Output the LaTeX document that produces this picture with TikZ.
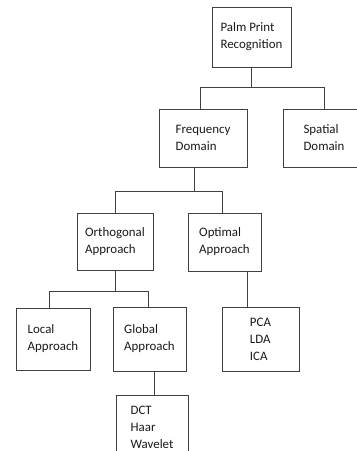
\documentclass[tikz,border=0pt]{standalone}
\usepackage{fontspec}
\setmainfont{Carlito}
\begin{document}
\begin{tikzpicture}[
    x=1pt,y=-1pt,
    box/.style = { draw=black!75,line width=0.9pt,align=left,inner sep=0pt,
                   font=\fontsize{12.9}{17}\selectfont,text=black!90 },
    linkstyle/.style = { draw=black!75,line width=0.9pt }
    ]
    \useasboundingbox (0,0) rectangle (357,451);
    \clip (0,0) rectangle (357,451);
    % Definitions
    \coordinate (pal) at (251.5, 37);
    \coordinate (frq) at (203  ,138);
    \coordinate (spa) at (324  ,138);
    \coordinate (ort) at (115  ,241.5);
    \coordinate (opm) at (224.5,242);
    \coordinate (loc) at ( 53  ,339);
    \coordinate (glo) at (149.5,339);
    \coordinate (pld) at (260.5,339);
    \coordinate (dct) at (152  ,427);
    % Nodes
    \node(P) at (pal) [box,minimum width=79pt,minimum height=60pt] {Palm Print\\Recognition};
    \node(F) at (frq) [box,minimum width=88pt,minimum height=58pt] {Frequency\\Domain};
    \node(S) at (spa) [box,minimum width=82pt,minimum height=58pt] {Spatial\\Domain};
    \node(O) at (ort) [box,minimum width=76pt,minimum height=57pt] {Orthogonal\\Approach};
    \node(T) at (opm) [box,minimum width=73pt,minimum height=58pt] {Optimal\\Approach};
    \node(L) at (loc) [box,minimum width=74pt,minimum height=62pt] {Local\\Approach};
    \node(G) at (glo) [box,minimum width=73pt,minimum height=64pt] {Global\\Approach};
    \node(A) at (pld) [box,minimum width=77pt,minimum height=64pt] {PCA\\LDA\\ICA};
    \node(D) at (dct) [box,minimum width=72pt,minimum height=64pt] {DCT\\Haar\\Wavelet};
    % Connectors
    \draw[linkstyle] (P.south)              -- ++(0,20) -| ([xshift=-3pt]F.north);
    \draw[linkstyle] (P.south)              -- ++(0,20) -| (S.north);
    \draw[linkstyle] ([xshift=-9pt]F.south) -- ++(0,24) -| (O.north);
    \draw[linkstyle] ([xshift=-9pt]F.south) -- ++(0,24) -| ([xshift=-2.5pt]T.north);
    \draw[linkstyle] (O.south)              -- ++(0,21) -| ([xshift=-4pt]L.north);
    \draw[linkstyle] (O.south)              -- ++(0,21) -| ([xshift=-1.5pt]G.north);
    \draw[linkstyle] ([xshift=22.5pt]T.south) -- ([xshift=22.5pt]T.south |- A.north);
    \draw[linkstyle] ([xshift=4.5pt]G.south)  -- ([xshift=4.5pt]G.south |- D.north);
\end{tikzpicture}
\end{document}
